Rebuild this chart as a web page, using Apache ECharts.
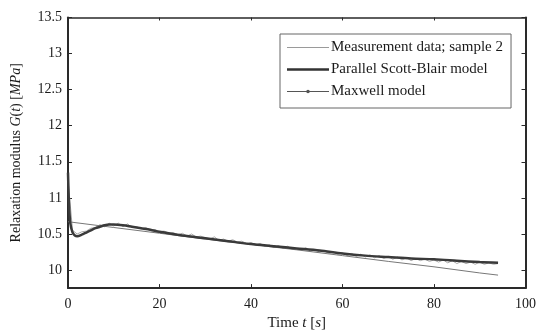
<!DOCTYPE html>
<html>
<head>
<meta charset="utf-8">
<script src="https://cdn.jsdelivr.net/npm/echarts@6/dist/echarts.min.js"></script>
<style>
  html, body { margin: 0; padding: 0; background: #fff; }
  #chart { width: 539px; height: 336px; }
</style>
</head>
<body>
<div id="chart"></div>
<script>
// measurement data, sample 2 (t in s, G in MPa)
const tMeas = [0,1,2,3,4,5,6,7,8,9,10,11,12,13,14,15,16,17,18,19,20,21,22,23,24,25,26,27,28,29,30,31,32,33,34,35,36,37,38,39,40,41,42,43,44,45,46,47,48,49,50,51,52,53,54,55,56,57,58,59,60,61,62,63,64,65,66,67,68,69,70,71,72,73,74,75,76,77,78,79,80,81,82,83,84,85,86,87,88,89,90,91,92,93,94];
const gMeas = [11.25,10.55,10.50,10.53,10.54,10.58,10.59,10.63,10.60,10.65,10.61,10.65,10.60,10.64,10.59,10.60,10.57,10.59,10.55,10.56,10.53,10.54,10.51,10.52,10.49,10.51,10.47,10.50,10.46,10.47,10.45,10.43,10.46,10.41,10.43,10.40,10.42,10.39,10.40,10.37,10.38,10.35,10.37,10.33,10.35,10.31,10.34,10.30,10.33,10.29,10.30,10.28,10.31,10.26,10.28,10.25,10.27,10.23,10.25,10.22,10.24,10.20,10.23,10.19,10.22,10.18,10.21,10.17,10.20,10.16,10.19,10.15,10.18,10.14,10.17,10.13,10.16,10.13,10.15,10.12,10.14,10.11,10.14,10.10,10.13,10.09,10.12,10.09,10.11,10.08,10.11,10.08,10.10,10.08,10.09];

// parallel Scott-Blair model
const tSB = [0,0.2,0.5,1,1.5,2,3,4,5,6,7,8,9,10,12,14,16,18,20,25,30,35,40,45,50,55,60,65,70,75,80,85,90,94];
const gSB = [11.35,10.95,10.65,10.52,10.48,10.47,10.49,10.52,10.55,10.58,10.60,10.62,10.63,10.63,10.62,10.60,10.58,10.56,10.53,10.48,10.44,10.40,10.36,10.33,10.30,10.27,10.23,10.20,10.18,10.16,10.15,10.13,10.11,10.10];

// Maxwell model
const tMax = [0,10,20,30,40,50,60,70,80,90,94];
const gMax = [10.67,10.59,10.51,10.43,10.355,10.28,10.20,10.12,10.045,9.96,9.93];

const xTicks = [0,20,40,60,80,100];
const yTicks = [10,10.5,11,11.5,12,12.5,13,13.5];

const pairs = (t, g) => t.map((v, i) => [v, g[i]]);
const font = 'Liberation Serif';
const axisColor = '#2a2a2a';
const textColor = '#1a1a1a';

// legend icons: a line (plus a dot for Maxwell) inside a 42x14 box
const box = 'M0,0L0.01,0L0.01,0.01Z M41.99,13.99L42,13.99L42,14Z ';
const iconThin = 'path://' + box + 'M0,6.5L42,6.5L42,7.5L0,7.5Z';
const iconThick = 'path://' + box + 'M0,5.8L42,5.8L42,8.2L0,8.2Z';
const iconDot = 'path://' + box +
  'M0,6.5L19.3,6.5L19.3,7.5L0,7.5Z M22.7,6.5L42,6.5L42,7.5L22.7,7.5Z ' +
  'M19.2,7A1.8,1.8 0 1,1 22.8,7A1.8,1.8 0 1,1 19.2,7Z';

const chart = echarts.init(document.getElementById('chart'));
const frameAxis = {
  type: 'value',
  axisLine: { show: true, onZero: false, lineStyle: { color: axisColor, width: 2 } },
  axisLabel: { show: false },
  splitLine: { show: false }
};
const nameStyle = (size) => ({
  fontFamily: font, fontSize: size, color: textColor,
  rich: { i: { fontFamily: font, fontStyle: 'italic', fontSize: size, color: textColor } }
});
chart.setOption({
  animation: false,
  grid: { left: 68, top: 17.5, right: 12, bottom: 41 },
  legend: {
    orient: 'vertical',
    left: 280,
    top: 34,
    padding: [6, 8, 9, 7],
    itemGap: 7,
    itemWidth: 42,
    itemHeight: 14,
    symbolKeepAspect: false,
    borderColor: '#666',
    borderWidth: 1,
    backgroundColor: '#fff',
    textStyle: { fontFamily: font, fontSize: 15, color: textColor, padding: [0, 0, 0, -3] },
    data: [
      { name: 'Measurement data; sample 2', icon: iconThin, itemStyle: { color: '#9a9a9a' } },
      { name: 'Parallel Scott-Blair model', icon: iconThick, itemStyle: { color: '#333' } },
      { name: 'Maxwell model', icon: iconDot, itemStyle: { color: '#555' } }
    ]
  },
  xAxis: [
    Object.assign({}, frameAxis, {
      min: 0, max: 100, interval: 20,
      position: 'bottom',
      axisTick: { show: true, inside: true, length: 4, lineStyle: { color: axisColor }, customValues: xTicks },
      axisLabel: { show: true, fontFamily: font, fontSize: 14, color: textColor, margin: 9, customValues: xTicks },
      name: 'Time {i|t} [{i|s}]',
      nameLocation: 'middle',
      nameGap: 23,
      nameTextStyle: nameStyle(15)
    }),
    Object.assign({}, frameAxis, {
      min: 0, max: 100, interval: 20, position: 'top',
      axisLine: { show: true, onZero: false, lineStyle: { color: axisColor, width: 1.5 } },
      axisTick: { show: true, inside: true, length: 3, lineStyle: { color: axisColor }, customValues: xTicks }
    })
  ],
  yAxis: [
    Object.assign({}, frameAxis, {
      min: 9.75, max: 13.5,
      position: 'left',
      axisTick: { show: true, inside: true, length: 4, lineStyle: { color: axisColor }, customValues: yTicks },
      axisLabel: { show: true, fontFamily: font, fontSize: 14, color: textColor, margin: 6, customValues: yTicks },
      name: 'Relaxation modulus {i|G}({i|t}) [{i|MPa}]',
      nameLocation: 'middle',
      nameGap: 45,
      nameTextStyle: nameStyle(14)
    }),
    Object.assign({}, frameAxis, {
      min: 9.75, max: 13.5, position: 'right',
      axisTick: { show: true, inside: true, length: 4, lineStyle: { color: axisColor }, customValues: yTicks }
    })
  ],
  series: [
    {
      name: 'Measurement data; sample 2',
      type: 'line',
      data: pairs(tMeas, gMeas),
      symbol: 'none',
      lineStyle: { color: '#a8a8a8', width: 1 },
      itemStyle: { color: '#a8a8a8' },
      z: 1
    },
    {
      name: 'Parallel Scott-Blair model',
      type: 'line',
      data: pairs(tSB, gSB),
      symbol: 'none',
      smooth: 0.3,
      lineStyle: { color: '#3a3a3a', width: 2.5 },
      itemStyle: { color: '#3a3a3a' },
      z: 3
    },
    {
      name: 'Maxwell model',
      type: 'line',
      data: pairs(tMax, gMax),
      symbol: 'none',
      lineStyle: { color: '#777', width: 1 },
      itemStyle: { color: '#555' },
      z: 2
    }
  ]
});
</script>
</body>
</html>
